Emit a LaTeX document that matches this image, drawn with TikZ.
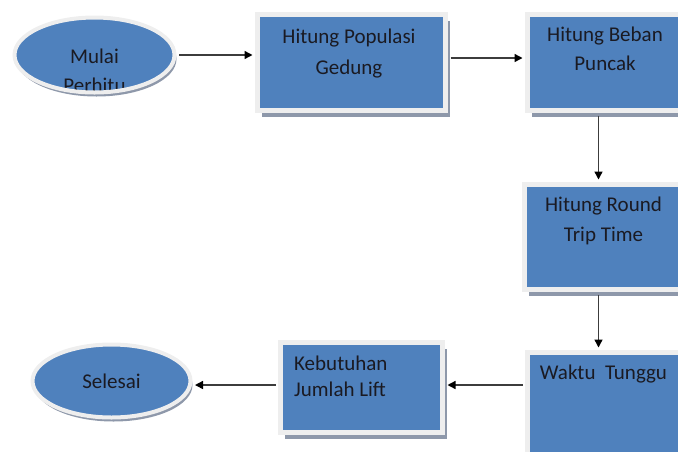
\documentclass[tikz,border=0pt]{standalone}
\usepackage{fontspec}
\setmainfont{Carlito}
\usetikzlibrary{arrows.meta,shapes.geometric,shadows}

\definecolor{boxblue}{HTML}{4F81BD}
\definecolor{rimgray}{HTML}{EEEEEE}
\definecolor{shadegray}{HTML}{8E98AA}
\definecolor{txtc}{HTML}{1A1A22}
\definecolor{linegray}{HTML}{3C3C3C}

\begin{document}
\begin{tikzpicture}[
    x=1pt, y=-1pt,
    box/.style={
        rectangle, fill=boxblue, draw=rimgray, line width=5pt, inner sep=0pt,
        drop shadow={shadow xshift=4pt, shadow yshift=-6.5pt, fill=shadegray, opacity=1}
    },
    oval/.style={
        ellipse, fill=boxblue, draw=rimgray, line width=4pt, inner sep=0pt,
        drop shadow={shadow xshift=2pt, shadow yshift=-4pt, fill=shadegray, opacity=1}
    },
    txt/.style={inner sep=0pt, align=center, text=txtc, font=\fontsize{21}{#1}\selectfont},
    arrow/.style={-{Triangle[length=8pt,width=8pt,color=black]}, line width=1.4pt,
        draw=linegray, shorten <=2.5pt, shorten >=2.5pt}
]
\clip (0,0) rectangle (678,451);

\node[oval, minimum width=160pt, minimum height=75pt,
      path picture={\node[txt=29] at ([yshift=-15.5pt]path picture bounding box.center)
                    {Mulai\\Perhitu};}] (mulai) at (94.5,55) {};
\node[box, minimum width=188pt, minimum height=96pt,
      label={[txt=31, anchor=north, xshift=-2.5pt, yshift=-16.5pt]north:Hitung Populasi\\Gedung}]
      (populasi) at (351.5,62.5) {};
\node[box, minimum width=155pt, minimum height=96pt,
      label={[txt=29, anchor=north, yshift=-14.5pt]north:Hitung Beban\\Puncak}]
      (beban) at (605,62.5) {};
\node[box, minimum width=158pt, minimum height=105pt,
      label={[txt=30, anchor=north, yshift=-14.5pt]north:Hitung Round\\Trip Time}]
      (rtt) at (603.5,237) {};
\node[box, minimum width=155pt, minimum height=110pt,
      label={[txt=26, anchor=north, xshift=-1.5pt, yshift=-14.5pt]north:Waktu\ \ Tunggu}]
      (tunggu) at (605,407.5) {};
\node[box, minimum width=162pt, minimum height=90pt,
      label={[txt=26, align=left, anchor=north west, xshift=16pt, yshift=-15.5pt]north west:Kebutuhan\\Jumlah Lift}]
      (lift) at (361.5,387.5) {};
\node[oval, minimum width=158pt, minimum height=73pt, txt=26] (selesai) at (111.5,381) {Selesai};

\draw[arrow] (mulai) -- (mulai -| populasi.west);
\draw[arrow] ([yshift=4.5pt]populasi.east) -- ([yshift=4.5pt]beban.west);
\draw[arrow] ([xshift=-6.5pt]beban.south) -- ([xshift=-6.5pt]beban.south |- rtt.north);
\draw[arrow] ([xshift=-5pt]rtt.south) -- ([xshift=-5pt]rtt.south |- tunggu.north);
\draw[arrow] ([yshift=2.5pt]tunggu.west |- lift.east) -- ([yshift=2.5pt]lift.east);
\draw[arrow] ([yshift=2.5pt]lift.west) -- ([yshift=2.5pt]lift.west -| selesai.east);
\end{tikzpicture}
\end{document}
